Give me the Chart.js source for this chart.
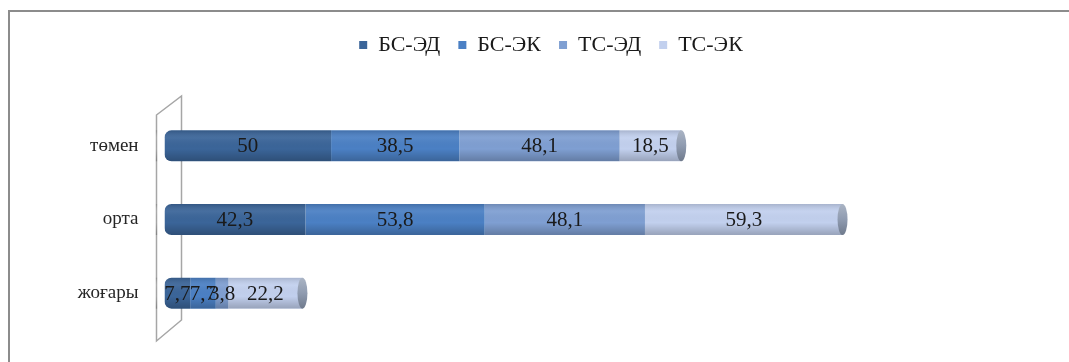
<!DOCTYPE html>
<html>
<head>
<meta charset="utf-8">
<script src="https://cdn.jsdelivr.net/npm/chart.js@4/dist/chart.umd.min.js"></script>
<style>
  html, body { margin: 0; padding: 0; background: #fff; }
  #wrap { width: 1069px; height: 362px; position: relative; }
</style>
</head>
<body>
<div id="wrap"><canvas id="grafico"></canvas></div>
<script>
// === Data ===
const categories = ["төмен", "орта", "жоғары"];
const seriesNames = ["БС-ЭД", "БС-ЭК", "ТС-ЭД", "ТС-ЭК"];
const bsEd = [50, 42.3, 7.7];
const bsEk = [38.5, 53.8, 7.7];
const tsEd = [48.1, 48.1, 3.8];
const tsEk = [18.5, 59.3, 22.2];
const xMax = 232;

const colors = ["#3b6599", "#4b80c4", "#7f9fd2", "#c2d0ee"];
const serif = "'Liberation Serif', 'Times New Roman', serif";

// === Plugins ===
const frame = {
  id: "frame",
  beforeDatasetsDraw(chart) {
    const { ctx, chartArea } = chart;
    const x0 = chart.scales.x.getPixelForValue(0);
    ctx.save();
    // outer border (only top and left visible)
    ctx.strokeStyle = "#8c8c8c";
    ctx.lineWidth = 2;
    ctx.beginPath();
    ctx.moveTo(9, 362);
    ctx.lineTo(9, 11);
    ctx.lineTo(1069, 11);
    ctx.stroke();
    // 3d back wall
    ctx.strokeStyle = "#a6a6a6";
    ctx.lineWidth = 1.5;
    ctx.beginPath();
    ctx.moveTo(x0 - 8, chartArea.top + 6);
    ctx.lineTo(x0 + 17, chartArea.top - 13);
    ctx.lineTo(x0 + 17, chartArea.bottom - 10);
    ctx.lineTo(x0 - 8, chartArea.bottom + 11);
    ctx.closePath();
    ctx.stroke();
    ctx.restore();
  },
  afterDatasetsDraw(chart) {
    const { ctx } = chart;
    const n = chart.data.datasets.length;
    const first = chart.getDatasetMeta(0).data;
    const last = chart.getDatasetMeta(n - 1).data;
    ctx.save();
    first.forEach((bar, i) => {
      const h = bar.height;
      const top = bar.y - h / 2;
      const left = bar.base;
      const right = last[i].x;
      // cylinder shading
      const g = ctx.createLinearGradient(0, top, 0, top + h);
      g.addColorStop(0, "rgba(0,0,0,0.14)");
      g.addColorStop(0.25, "rgba(255,255,255,0.06)");
      g.addColorStop(0.6, "rgba(0,0,0,0)");
      g.addColorStop(1, "rgba(0,0,0,0.22)");
      ctx.globalCompositeOperation = "source-atop";
      ctx.fillStyle = g;
      ctx.fillRect(left - 10, top, right - left + 10, h);
      ctx.globalCompositeOperation = "source-over";
      // end cap
      const cg = ctx.createLinearGradient(0, top, 0, top + h);
      cg.addColorStop(0, "#aab4c4");
      cg.addColorStop(0.5, "#8f9bb0");
      cg.addColorStop(1, "#6f7a8c");
      ctx.fillStyle = cg;
      ctx.beginPath();
      ctx.ellipse(right, bar.y, 5, h / 2, 0, 0, Math.PI * 2);
      ctx.fill();
    });
    // data labels
    ctx.fillStyle = "#1a1a1a";
    ctx.font = "21px " + serif;
    ctx.textAlign = "center";
    ctx.textBaseline = "middle";
    chart.data.datasets.forEach((ds, di) => {
      chart.getDatasetMeta(di).data.forEach((bar, i) => {
        const cx = (bar.x + bar.base) / 2;
        ctx.fillText(String(ds.data[i]).replace(".", ","), cx, bar.y + 1);
      });
    });
    ctx.restore();
  }
};

const valores = [bsEd, bsEk, tsEd, tsEk];
const datasets = seriesNames.map((name, i) => ({
  label: name,
  data: valores[i],
  backgroundColor: colors[i],
  borderWidth: 0,
  borderSkipped: false,
  borderRadius: i === 0 ? { topLeft: 7, bottomLeft: 7, topRight: 0, bottomRight: 0 } : 0,
  barPercentage: 0.42,
  categoryPercentage: 1
}));

new Chart(document.getElementById("grafico"), {
  type: "bar",
  data: { labels: categories, datasets },
  plugins: [frame],
  options: {
    indexAxis: "y",
    responsive: true,
    maintainAspectRatio: false,
    animation: false,
    layout: { padding: { top: 16, right: 131.5, bottom: 32, left: 0 } },
    plugins: {
      tooltip: { enabled: false },
      legend: {
        position: "top",
        fullSize: false,
        labels: {
          boxWidth: 8,
          boxHeight: 8,
          padding: 18,
          color: "#1a1a1a",
          font: { family: serif, size: 22 }
        }
      }
    },
    scales: {
      x: {
        position: "top",
        stacked: true,
        min: 0,
        max: xMax,
        grid: { display: false },
        border: { display: false },
        ticks: { display: false },
        afterFit(scale) { scale.height = 43; }
      },
      y: {
        stacked: true,
        grid: { display: false },
        border: { display: false },
        ticks: {
          color: "#262626",
          padding: 18,
          font: { family: serif, size: 19 }
        },
        afterFit(scale) { scale.width = 164.5; }
      }
    }
  }
});
</script>
</body>
</html>
